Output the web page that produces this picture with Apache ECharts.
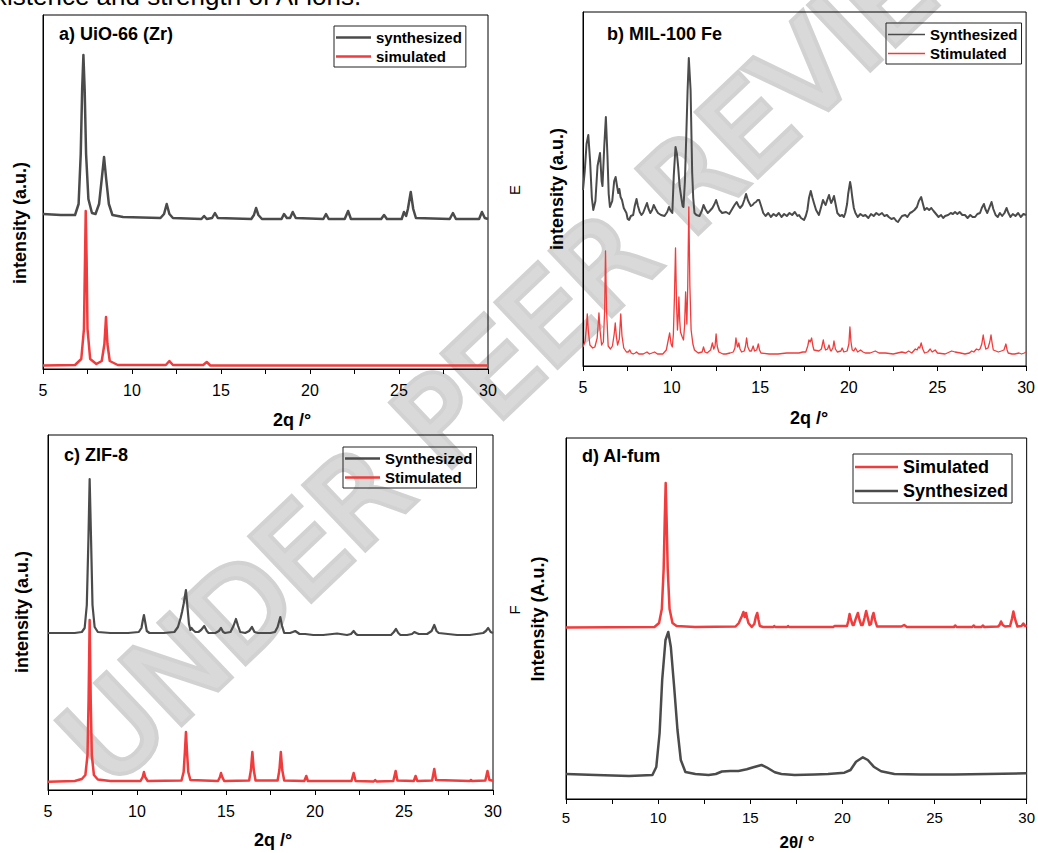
<!DOCTYPE html>
<html>
<head>
<meta charset="utf-8">
<title>XRD patterns of MOFs</title>
<script src="https://cdn.jsdelivr.net/npm/echarts@6/dist/echarts.min.js"></script>
<style>
  html, body { margin: 0; padding: 0; background: #fff; }
  #chart { width: 1038px; height: 853px; }
</style>
</head>
<body>
<div id="chart"></div>
<script>
// x range shared by all four panels (2θ, degrees)
const xTicks = [5, 10, 15, 20, 25, 30]

// a) UiO-66 (Zr)  [2θ, intensity a.u.]
const uioSynthesized = [[5,155],[6,154],[6.8,154],[7.0,165],[7.12,215],[7.2,280],[7.27,314],[7.34,280],[7.42,215],[7.55,170],[7.75,156],[7.95,155],[8.15,165],[8.3,190],[8.43,212],[8.55,190],[8.7,165],[8.9,154],[9.5,152],[11.6,151],[11.8,155],[11.95,165],[12.1,155],[12.3,151],[13.9,150],[14.05,153],[14.2,150],[14.5,151],[14.66,156],[14.82,151],[16.7,150],[16.85,154],[16.97,161],[17.1,154],[17.3,150],[18.4,150],[18.54,155],[18.7,151],[18.88,151],[19.03,157],[19.2,151],[20.75,150],[20.9,155],[21.05,150],[21.95,150],[22.14,158],[22.3,150],[24.0,150],[24.16,154],[24.32,150],[25.15,150],[25.28,157],[25.4,153],[25.5,160],[25.66,177],[25.8,160],[25.95,151],[27.85,150],[28.03,156],[28.2,150],[29.5,150],[29.66,157],[29.82,151],[30,150]]
const uioSimulated = [[5,3.5],[6.8,4],[7.15,10],[7.3,40],[7.36,110],[7.4,158],[7.45,110],[7.5,40],[7.65,10],[8.0,5],[8.3,8],[8.45,25],[8.54,52],[8.62,25],[8.75,8],[9.2,4],[11.9,4],[12.1,8],[12.3,4],[14.0,4],[14.2,7],[14.4,3.5],[30,3.5]]

// b) MIL-100 Fe
const milSynthesized = [[5.0,176],[5.1,195],[5.2,222],[5.3,231],[5.4,205],[5.5,168],[5.58,156],[5.7,165],[5.82,200],[5.96,213],[6.05,185],[6.1,180],[6.2,220],[6.29,249],[6.38,210],[6.45,172],[6.52,159],[6.65,165],[6.76,185],[6.84,189],[6.92,180],[6.99,173],[7.05,177],[7.12,169],[7.2,166],[7.3,158],[7.45,153],[7.52,147],[7.6,146],[7.7,150],[7.83,151],[7.92,160],[8.02,167],[8.1,160],[8.2,154],[8.3,151],[8.39,153],[8.5,158],[8.61,163],[8.7,157],[8.8,153],[8.9,156],[8.99,161],[9.1,157],[9.23,153],[9.4,151],[9.6,150],[9.75,154],[9.85,159],[9.95,155],[10.04,153],[10.12,190],[10.22,219],[10.3,212],[10.37,199],[10.45,180],[10.54,169],[10.62,160],[10.67,159],[10.75,185],[10.82,226],[10.9,275],[10.97,308],[11.07,276],[11.16,193],[11.22,168],[11.29,153],[11.4,151],[11.57,150],[11.7,155],[11.8,161],[11.9,157],[12.04,153],[12.15,155],[12.3,158],[12.42,162],[12.51,166],[12.6,161],[12.7,156],[12.85,153],[13.07,154],[13.25,152],[13.45,158],[13.55,161],[13.67,164],[13.78,160],[13.86,158],[14.0,161],[14.1,166],[14.2,172],[14.3,166],[14.38,163],[14.47,160],[14.57,161],[14.66,163],[14.76,164],[14.85,166],[14.94,166],[15.05,160],[15.17,153],[15.3,150],[15.45,153],[15.6,149],[15.75,152],[15.9,150],[16.05,153],[16.2,149],[16.35,152],[16.5,150],[16.65,153],[16.8,151],[16.95,154],[17.1,150],[17.19,151],[17.3,148],[17.47,146],[17.57,150],[17.66,156],[17.75,168],[17.85,175],[17.95,168],[18.03,163],[18.15,156],[18.31,151],[18.42,158],[18.54,166],[18.62,163],[18.69,161],[18.78,166],[18.88,171],[18.95,166],[19.0,163],[19.08,166],[19.16,170],[19.25,162],[19.35,153],[19.5,150],[19.62,151],[19.72,149],[19.8,153],[19.9,162],[19.96,172],[20.07,184],[20.13,178],[20.19,169],[20.28,158],[20.37,153],[20.5,149],[20.65,152],[20.8,150],[20.93,151],[21.1,148],[21.25,152],[21.4,150],[21.55,153],[21.7,151],[21.87,153],[22.0,150],[22.15,151],[22.25,149],[22.4,147],[22.55,148],[22.68,145],[22.77,144],[22.88,147],[23.0,150],[23.18,151],[23.3,149],[23.45,153],[23.56,154],[23.7,156],[23.84,159],[23.95,165],[24.08,169],[24.18,162],[24.27,156],[24.4,158],[24.53,156],[24.65,158],[24.78,155],[24.92,152],[25.06,149],[25.2,151],[25.32,148],[25.43,150],[25.6,151],[25.75,153],[25.87,152],[25.99,154],[26.12,152],[26.25,154],[26.4,151],[26.55,151],[26.7,148],[26.85,151],[26.98,149],[27.12,149],[27.25,152],[27.4,153],[27.5,158],[27.62,162],[27.7,157],[27.81,153],[27.92,158],[28.05,164],[28.15,157],[28.28,151],[28.4,149],[28.52,153],[28.65,150],[28.78,153],[28.9,158],[29.0,153],[29.12,149],[29.25,152],[29.4,150],[29.55,153],[29.7,149],[29.85,152],[30.0,151]]
const milStimulated = [[5.0,19],[5.12,25],[5.19,38],[5.24,52],[5.3,35],[5.39,21],[5.55,18],[5.67,19],[5.8,28],[5.85,40],[5.9,53],[5.96,36],[6.05,21],[6.15,24],[6.22,55],[6.27,115],[6.33,55],[6.42,20],[6.55,17],[6.66,20],[6.76,32],[6.82,43],[6.88,30],[6.95,21],[7.05,27],[7.13,52],[7.2,30],[7.3,18],[7.45,14],[7.55,14],[7.64,16],[7.72,13],[7.83,12],[7.95,13],[8.02,14],[8.15,12],[8.4,12],[8.61,14],[8.75,12],[9.04,14],[9.2,12],[9.5,12],[9.7,16],[9.8,25],[9.89,33],[9.97,22],[10.04,19],[10.1,32],[10.16,70],[10.22,118],[10.28,60],[10.33,36],[10.37,48],[10.41,69],[10.46,45],[10.5,34],[10.6,29],[10.67,26],[10.73,40],[10.79,74],[10.83,55],[10.86,42],[10.91,80],[10.97,159],[11.03,80],[11.1,36],[11.2,22],[11.29,16],[11.5,13],[11.72,14],[11.8,19],[11.88,14],[12.0,13],[12.2,16],[12.3,23],[12.38,17],[12.45,20],[12.51,32],[12.57,20],[12.66,14],[12.9,12],[13.07,12],[13.3,13],[13.48,14],[13.57,18],[13.63,28],[13.7,20],[13.73,19],[13.79,23],[13.86,17],[13.95,14],[14.1,15],[14.17,20],[14.23,28],[14.3,19],[14.4,15],[14.5,15],[14.6,20],[14.68,15],[14.8,16],[14.89,22],[14.96,16],[15.04,13],[15.5,12],[16.0,12],[16.5,13],[16.9,13],[17.19,13],[17.4,14],[17.57,14],[17.68,20],[17.75,26],[17.82,24],[17.9,28],[17.97,20],[18.03,16],[18.31,15],[18.45,17],[18.56,26],[18.63,19],[18.69,16],[18.8,17],[18.88,21],[18.95,16],[19.0,15],[19.1,18],[19.16,25],[19.24,17],[19.35,14],[19.55,15],[19.62,18],[19.72,14],[19.9,15],[20.0,22],[20.06,39],[20.12,24],[20.19,16],[20.28,15],[20.37,18],[20.5,14],[20.66,16],[20.8,14],[20.93,13],[21.2,13],[21.49,15],[21.7,13],[22.06,13],[22.5,12],[22.99,14],[23.2,13],[23.37,15],[23.55,13],[23.75,17],[23.85,16],[23.93,19],[24.0,18],[24.08,23],[24.17,17],[24.27,13],[24.45,14],[24.59,17],[24.7,14],[24.87,16],[25.0,13],[25.43,12],[25.8,15],[25.99,14],[26.3,13],[26.55,12],[26.8,13],[26.93,15],[27.05,14],[27.2,17],[27.32,16],[27.4,17],[27.5,22],[27.58,31],[27.66,22],[27.73,17],[27.85,18],[27.95,24],[28.02,31],[28.09,22],[28.15,16],[28.3,15],[28.43,14],[28.6,15],[28.75,16],[28.86,22],[28.93,16],[28.99,13],[29.2,12],[29.36,12],[29.6,13],[29.74,12],[29.9,13],[30.0,14]]

// c) ZIF-8
const zifSynthesized = [[5,157],[6.5,157],[6.9,158],[7.06,162],[7.18,185],[7.27,250],[7.34,311],[7.42,250],[7.5,185],[7.62,163],[7.8,158],[8.5,157],[9.5,157],[10.1,158],[10.25,162],[10.33,170],[10.39,175],[10.46,168],[10.55,159],[10.7,157],[11.5,157],[12.1,158],[12.3,163],[12.45,172],[12.53,178],[12.62,186],[12.75,200],[12.85,180],[12.92,166],[13.0,160],[13.06,162],[13.15,160],[13.28,158],[13.45,158],[13.6,160],[13.78,164],[13.92,159],[14.02,157],[14.4,157],[14.6,159],[14.72,162],[14.84,158],[14.95,157],[15.25,158],[15.42,164],[15.56,171],[15.68,164],[15.8,158],[16.08,157],[16.3,159],[16.46,163],[16.6,158],[16.8,157],[17.5,157],[17.75,158],[17.9,163],[18.05,173],[18.15,164],[18.27,157],[18.6,157],[18.75,158],[18.89,159],[19.13,156],[19.45,156],[19.9,155],[20.46,155],[21.24,156.5],[21.8,155],[22.02,156],[22.17,159],[22.3,156],[22.39,155],[23.1,155],[23.67,155],[24.27,155],[24.43,158],[24.55,161],[24.68,157],[24.8,155],[25.17,155],[25.45,156],[25.58,158],[25.7,157],[25.83,156],[26.3,156],[26.55,159],[26.7,165],[26.83,159],[26.95,157],[27.98,155],[28.7,155],[29.45,157],[29.6,159],[29.73,162],[29.87,158],[30,157]]
const zifStimulated = [[5,8.3],[6.5,9],[6.9,11],[7.1,15],[7.22,35],[7.28,90],[7.34,170],[7.4,90],[7.46,35],[7.58,15],[7.8,10.5],[8.5,9],[10.2,9],[10.32,13],[10.39,18],[10.46,13],[10.6,9],[12.5,9.5],[12.62,18],[12.69,38],[12.75,58],[12.81,38],[12.88,18],[13.0,10],[14.55,9],[14.66,13],[14.72,17],[14.79,13],[14.9,9],[16.3,9.5],[16.4,20],[16.48,38],[16.56,20],[16.66,9.5],[17.9,9.5],[18.0,20],[18.08,38],[18.16,20],[18.27,9.5],[19.4,9],[19.51,14],[19.6,9],[22.05,9],[22.17,17],[22.28,9],[23.3,8.5],[23.38,10],[23.46,8.5],[24.4,9],[24.53,19],[24.63,9.5],[25.55,9],[25.65,14],[25.75,9],[26.58,9.5],[26.7,21],[26.8,10],[28.7,9],[28.76,10],[28.82,9],[29.57,9.5],[29.69,19],[29.8,10],[30,9.3]]

// d) Al-fum
const alfumSimulated = [[5,171.5],[9.8,172],[10.05,176],[10.2,190],[10.3,230],[10.36,280],[10.41,316],[10.46,280],[10.52,230],[10.62,190],[10.78,176],[11.0,173],[12,172],[14.2,172.5],[14.38,176],[14.45,179],[14.55,183],[14.63,187],[14.7,182],[14.77,186],[14.83,181],[14.9,176],[15.08,172],[15.22,175],[15.3,182],[15.38,186],[15.45,179],[15.52,173],[15.7,172],[16.25,172],[16.3,173],[16.35,172],[17.0,172],[17.05,173],[17.1,172],[19.5,172],[19.58,173],[20.25,173],[20.32,178],[20.39,185],[20.47,179],[20.56,174],[20.62,174],[20.72,180],[20.84,186],[20.93,179],[21.02,174],[21.1,174],[21.2,181],[21.29,188],[21.38,181],[21.47,174],[21.55,175],[21.62,182],[21.69,186],[21.77,179],[21.88,172.5],[23.2,172.5],[23.35,174],[23.5,172],[26.05,172],[26.13,173.5],[26.2,172],[27.05,172],[27.12,173.5],[27.2,172],[27.55,172],[27.62,173.5],[27.7,172],[28.45,172.5],[28.53,174],[28.61,177.5],[28.7,174],[28.83,172.5],[29.1,173],[29.2,180],[29.28,187.5],[29.37,180],[29.5,172.5],[29.72,173],[29.82,175.5],[29.92,173],[30,173]]
const alfumSynthesized = [[5.0,25],[6.63,24],[8.43,23],[9.69,24],[9.9,32],[10.08,66],[10.22,119],[10.4,159],[10.55,167],[10.69,152],[10.87,112],[11.05,69],[11.23,39],[11.48,27],[12.02,25],[12.74,24],[13.13,25],[13.46,27.5],[13.91,28],[14.36,28],[14.81,29.7],[15.17,31.7],[15.61,34],[15.88,31.7],[16.33,26.7],[16.69,25],[17.41,24],[18.5,24.5],[19.22,25],[20.11,26.3],[20.44,29],[20.74,37.3],[21.11,41.7],[21.38,39],[21.7,32.3],[22.1,27.7],[22.82,25],[24.25,24.5],[26.05,24.5],[27.85,25],[30,25.7]]

const GRAY = "#4b4b4b"
const RED = "#f03c3c"
const FONT = "Liberation Sans"

// 四个面板的位置（像素）
const panels = [
  { left: 43, top: 15, width: 445, height: 354, tickSize: 16, labelMargin: 13 },
  { left: 583, top: 12, width: 445, height: 354, tickSize: 16, labelMargin: 13 },
  { left: 48, top: 435, width: 445, height: 355, tickSize: 16, labelMargin: 13 },
  { left: 566, top: 438, width: 464, height: 361, tickSize: 15, labelMargin: 11 }
]

function lineSeries(name, data, idx, color, width) {
  return {
    name,
    type: "line",
    xAxisIndex: idx,
    yAxisIndex: idx,
    data,
    symbol: "none",
    showSymbol: false,
    animation: false,
    lineStyle: { color, width, join: "round" },
    itemStyle: { color }
  }
}

// 图例：细长矩形代替折线图标
function legendAt(left, top, names, fontSize, itemWidth, lineWidth, gap) {
  return {
    orient: "vertical",
    left,
    top,
    data: names,
    icon: "rect",
    itemWidth,
    itemHeight: lineWidth,
    itemGap: gap,
    padding: [4, 4, 3, 2],
    borderColor: "#222",
    borderWidth: 1,
    selectedMode: false,
    textStyle: { fontFamily: FONT, fontWeight: "bold", fontSize, color: "#000" }
  }
}

function label(text, x, y, size, opts) {
  return Object.assign({
    type: "text",
    x,
    y,
    silent: true,
    style: {
      text,
      font: `bold ${size}px "${FONT}"`,
      fill: "#000",
      align: "center",
      verticalAlign: "middle"
    }
  }, opts || {})
}

function plainLetter(text, x, y) {
  return {
    type: "text",
    x,
    y,
    rotation: Math.PI / 2,
    silent: true,
    style: { text, font: `15px "${FONT}"`, fill: "#000", align: "center", verticalAlign: "middle" }
  }
}

const chart = echarts.init(document.getElementById("chart"), null, { renderer: "svg" })

const option = {
  animation: false,
  backgroundColor: "#fff",
  grid: panels.map(p => ({
    left: p.left,
    top: p.top,
    width: p.width,
    height: p.height,
    show: true,
    borderColor: "#000",
    borderWidth: 1
  })),
  xAxis: panels.map((p, i) => ({
    type: "value",
    gridIndex: i,
    min: xTicks[0],
    max: xTicks[xTicks.length - 1],
    interval: 2.5,
    axisLine: { show: true, lineStyle: { color: "#000", width: 1 } },
    axisTick: { show: true, inside: false, length: 5, lineStyle: { color: "#000" } },
    splitLine: { show: false },
    axisLabel: {
      color: "#000",
      fontFamily: FONT,
      fontSize: p.tickSize,
      margin: p.labelMargin,
      formatter: v => (xTicks.includes(v) ? String(v) : "")
    }
  })),
  yAxis: panels.map((p, i) => ({
    type: "value",
    gridIndex: i,
    min: 0,
    max: p.height,
    axisLine: { show: true, lineStyle: { color: "#000", width: 1 } },
    axisTick: { show: false },
    axisLabel: { show: false },
    splitLine: { show: false }
  })),
  title: [
    { text: "a) UiO-66 (Zr)", left: 59, top: 25 },
    { text: "b) MIL-100 Fe", left: 607, top: 25 },
    { text: "c) ZIF-8", left: 64, top: 446 },
    { text: "d) Al-fum", left: 582, top: 447 }
  ].map(t => Object.assign(t, {
    padding: 0,
    textStyle: { fontFamily: FONT, fontWeight: "bold", fontSize: 18, color: "#000" }
  })),
  legend: [
    legendAt(334, 26, ["synthesized", "simulated"], 15, 35, 2.5, 4),
    legendAt(886, 23, ["Synthesized", "Stimulated"], 15, 37, 1.5, 4),
    legendAt(343, 447, ["Synthesized", "Stimulated"], 15, 35, 2.5, 4),
    legendAt(853, 454, ["Simulated", "Synthesized"], 18, 43, 2.5, 6)
  ],
  series: [
    lineSeries("synthesized", uioSynthesized, 0, GRAY, 2.5),
    lineSeries("simulated", uioSimulated, 0, RED, 2.5),
    lineSeries("Synthesized", milSynthesized, 1, GRAY, 2),
    lineSeries("Stimulated", milStimulated, 1, RED, 1.3),
    lineSeries("Synthesized", zifSynthesized, 2, GRAY, 2.2),
    lineSeries("Stimulated", zifStimulated, 2, RED, 2.5),
    lineSeries("Simulated", alfumSimulated, 3, RED, 2.5),
    lineSeries("Synthesized", alfumSynthesized, 3, GRAY, 2.5)
  ],
  graphic: [
    // 水印
    {
      type: "text",
      x: 540,
      y: 325,
      rotation: 0.76,
      z: -100,
      silent: true,
      style: {
        text: "UNDER PEER REVIEW",
        font: '118px "DejaVu Sans"',
        fill: "#d9d9d9",
        stroke: "#d2d2d2",
        lineWidth: 8,
        align: "center",
        verticalAlign: "middle"
      }
    },
    // 页面顶部被裁掉的正文
    {
      type: "text",
      x: -6,
      y: 9,
      silent: true,
      style: {
        text: "xistence and strength of Al ions.",
        font: `26px "${FONT}"`,
        fill: "#000",
        align: "left",
        verticalAlign: "bottom"
      }
    },
    label("intensity (a.u.)", 20, 223, 18, { rotation: Math.PI / 2 }),
    label("intensity (a.u.)", 557, 189, 18, { rotation: Math.PI / 2 }),
    label("intensity (a.u.)", 22, 612, 18, { rotation: Math.PI / 2 }),
    label("Intensity (A.u.)", 538, 619, 18, { rotation: Math.PI / 2 }),
    plainLetter("E", 514, 190),
    plainLetter("F", 514, 610),
    label("2q /°", 292, 420, 18),
    label("2q /°", 809, 418, 18),
    label("2q /°", 273, 840, 18),
    label("2θ/ °", 797, 842, 17)
  ]
}

chart.setOption(option)
</script>
</body>
</html>
